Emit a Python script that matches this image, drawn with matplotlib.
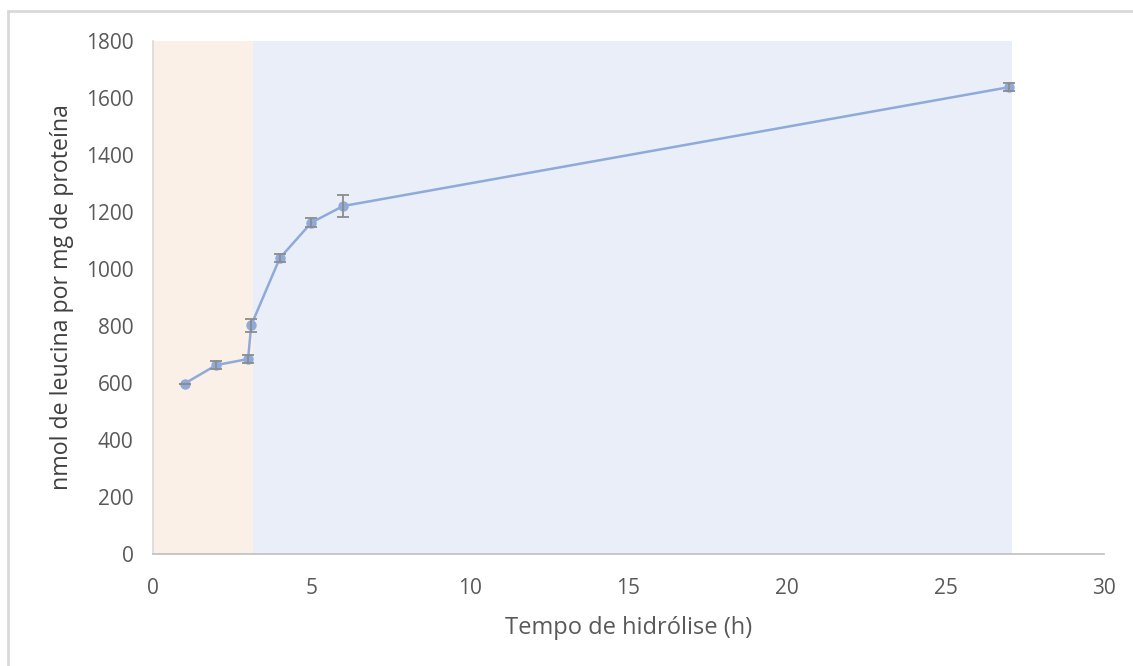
import matplotlib.pyplot as plt
from matplotlib.patches import Rectangle

# hydrolysis time (h), leucine released (nmol / mg protein) and std error
tempo = [1, 2, 3, 3.1, 4, 5, 6, 27]
leucina = [598, 663, 684, 803, 1038, 1163, 1221, 1638]
erro = [0, 15, 14, 23, 14, 16, 38, 15]

# shaded phases along the time axis
fase1 = (0, 3.15)
fase2 = (3.15, 27.1)

plt.rcParams['font.family'] = ['Open Sans', 'DejaVu Sans']

fig = plt.figure(figsize=(11.33, 6.66), dpi=100)
ax = fig.add_axes([0.135, 0.1682, 0.8394, 0.7702])

# outer frame (only top and left edges show)
fig.patches.append(Rectangle((8 / 1133, -0.1), 1.2, 1 - 11 / 666 + 0.1,
                             transform=fig.transFigure, fill=False,
                             edgecolor='#d9d9d9', linewidth=2))

ax.axvspan(*fase1, ymin=0, ymax=1, color='#fbf0e7', lw=0, zorder=0)
ax.axvspan(*fase2, ymin=0, ymax=1, color='#eaeef8', lw=0, zorder=0)

ax.plot(tempo, leucina, color='#8eaadb', lw=1.8, marker='o', ms=6.5, zorder=3)
ax.errorbar(tempo, leucina, yerr=erro, fmt='none', ecolor='#8c8c8c',
            elinewidth=1.3, capsize=4, capthick=1.3, zorder=4)

ax.set_xlim(0, 30)
ax.set_ylim(0, 1800)
ax.set_xticks(range(0, 31, 5))
ax.set_yticks(range(0, 1801, 200))
ax.tick_params(length=0, labelsize=15, labelcolor='#595959')
ax.tick_params(axis='y', pad=14)
ax.tick_params(axis='x', pad=17.5)

for s in ['top', 'right']:
    ax.spines[s].set_visible(False)
ax.spines['left'].set_color('#d9d9d9')
ax.spines['bottom'].set_color('#bfbfbf')
ax.spines['left'].set_linewidth(1.2)
ax.spines['bottom'].set_linewidth(1.2)

ax.set_xlabel('Tempo de hidrólise (h)', fontsize=17, color='#595959', labelpad=12)
ax.set_ylabel('nmol de leucina por mg de proteína', fontsize=16.7, color='#404040', labelpad=8.5)

fig.savefig('out.png', dpi=100)
